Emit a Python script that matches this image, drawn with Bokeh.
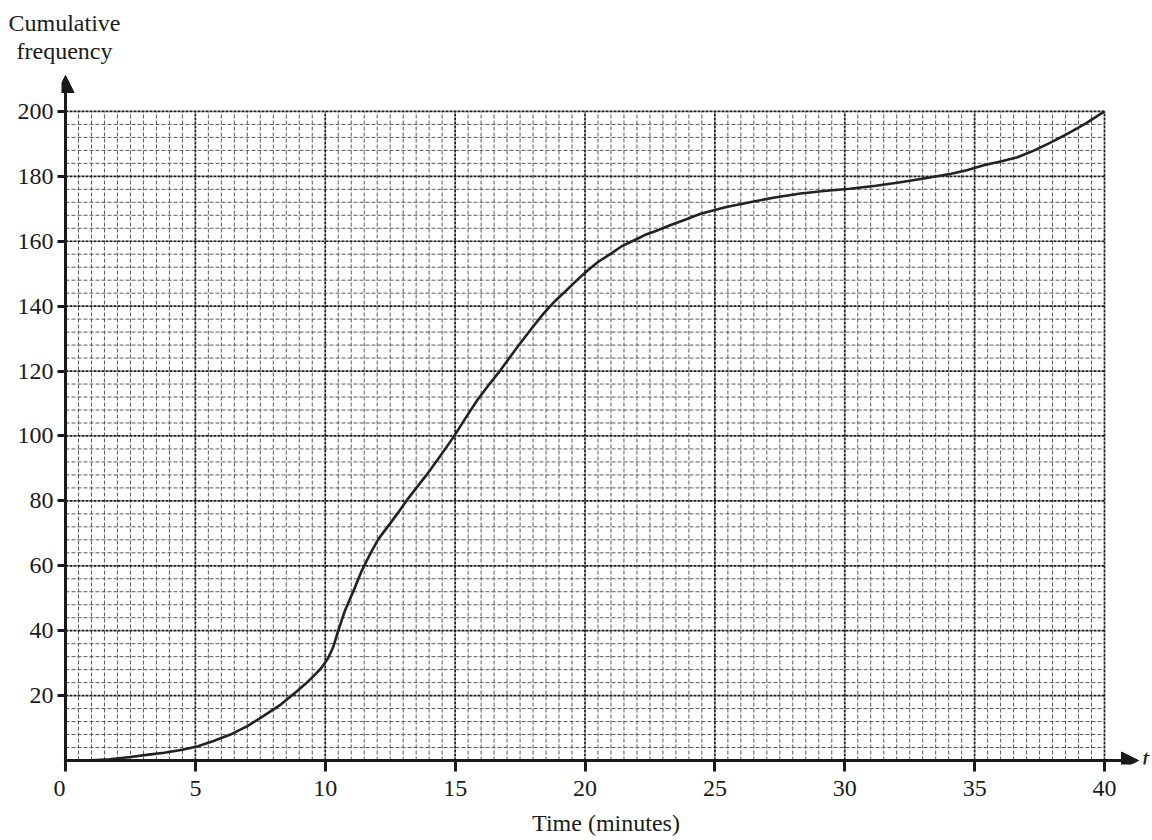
import numpy as np
from bokeh.plotting import figure
from bokeh.models import FixedTicker, Arrow, NormalHead, Range1d, Title
from bokeh.core.properties import value
from bokeh.embed import file_html
from bokeh.resources import INLINE

# Data
time_min = [0, 1, 1.7, 2.5, 3.2, 3.8, 4.5, 5.1, 5.7, 6.35, 7, 7.6, 8.3, 8.9, 9.25, 9.55, 9.85,
            10.1, 10.3, 10.5, 10.75, 11.1, 11.4, 11.75, 12.05, 12.4, 12.8, 13.15, 13.9, 14.4,
            14.95, 15.4, 15.85, 16.3, 16.75, 17.1, 17.5, 17.95, 18.4, 18.85, 19.3, 19.7, 20.1,
            20.5, 21, 21.4, 21.9, 22.3, 22.8, 23.3, 23.8, 24.45, 25.4, 26.4, 27.3, 28.3, 29.2,
            30.2, 31.2, 32.15, 33.1, 34.1, 34.7, 35.35, 36, 36.65, 37.3, 37.9, 38.55, 39.3, 40]
cum_freq = [0, 0.1, 0.4, 1.1, 1.8, 2.4, 3.3, 4.4, 6, 8, 10.6, 13.6, 17.3, 21.3, 23.7, 26, 28.5,
            31.4, 34.8, 40, 46, 52.5, 58.4, 64, 68.3, 72, 76.3, 80.3, 88, 93.5,
            99.8, 105.5, 111, 115.8, 120.3, 124.2, 128.5, 133.2, 137.7, 141.6, 145, 148.1, 151,
            153.6, 156.2, 158.4, 160.3, 161.9, 163.4, 165, 166.5, 168.5, 170.5, 172.1, 173.5,
            174.7, 175.5, 176.2, 177.1, 178.2, 179.4, 180.8, 181.9, 183.4, 184.6, 185.9, 188,
            190.3, 193, 196.4, 200]
x_ticks = [0, 5, 10, 15, 20, 25, 30, 35, 40]
x_tick_labels = {0: "0\u2002"}
y_ticks = [20, 40, 60, 80, 100, 120, 140, 160, 180, 200]
y_title = "Cumulative\n\u2004frequency"

FONT = "Liberation Serif"
INK = "#1a1a1a"
X_MAX, Y_MAX = 40, 200
PX_X, PX_Y = 25.975, 3.25          # pixels per unit
W, H = 1150, 838
LEFT, TOP, BOTTOM = 61, 70, 765     # frame edges (px)
X0_PX, Y0_PX = 65, 761              # origin (px)

x_range = Range1d((LEFT - X0_PX) / PX_X, (W - X0_PX) / PX_X)
y_range = Range1d(-(BOTTOM - Y0_PX) / PX_Y, (Y0_PX - TOP) / PX_Y)

p = figure(width=W, height=H, output_backend="svg", toolbar_location=None,
           x_range=x_range, y_range=y_range,
           min_border_left=LEFT, min_border_right=0, min_border_top=TOP,
           min_border_bottom=H - BOTTOM)
p.outline_line_color = None
p.xgrid.visible = False
p.ygrid.visible = False

# grid: minor
xm = [v for v in np.arange(0.5, X_MAX + 0.01, 0.5) if abs(v % 5) > 1e-9]
ym = [v for v in np.arange(4, Y_MAX + 0.01, 4) if abs(v % 20) > 1e-9]
p.segment(x0=xm, y0=[0] * len(xm), x1=xm, y1=[Y_MAX] * len(xm),
          line_color="#5a5a5a", line_width=1, line_dash="4 2")
p.segment(x0=[0] * len(ym), y0=ym, x1=[X_MAX] * len(ym), y1=ym,
          line_color="#5a5a5a", line_width=1, line_dash="4 2")
# grid: major
xM = x_ticks[1:]
p.segment(x0=xM, y0=[0] * len(xM), x1=xM, y1=[Y_MAX] * len(xM),
          line_color=INK, line_width=1.7, line_dash="3 1")
p.segment(x0=[0] * len(y_ticks), y0=y_ticks, x1=[X_MAX] * len(y_ticks), y1=y_ticks,
          line_color=INK, line_width=1.7, line_dash="3 1")

# curve
p.line(time_min, cum_freq, line_color="#222222", line_width=2.6, line_join="round")

# axis lines with arrows
y_tip = (Y0_PX - 75) / PX_Y
x_tip = (1138 - X0_PX) / PX_X
p.add_layout(Arrow(end=NormalHead(size=17, fill_color=INK, line_color=INK),
                   x_start=0, y_start=-0.45, x_end=0, y_end=y_tip,
                   line_width=3, line_color=INK))
p.add_layout(Arrow(end=NormalHead(size=17, fill_color=INK, line_color=INK),
                   x_start=-0.06, y_start=0, x_end=x_tip, y_end=0,
                   line_width=3, line_color=INK))
p.text(x=[(1145 - X0_PX) / PX_X], y=[(Y0_PX - 759) / PX_Y], text=["t"], text_font=value(FONT),
       text_font_size=value("26px"), text_font_style="italic", text_color=INK,
       text_align="center", text_baseline="middle")

# axes (ticks + labels)
for ax in (p.xaxis[0], p.yaxis[0]):
    ax.axis_line_color = None
    ax.major_tick_line_width = 3
    ax.major_tick_line_color = INK
    ax.minor_tick_line_color = None
    ax.major_label_text_font = FONT
    ax.major_label_text_font_size = "24px"
    ax.major_label_text_color = INK
p.xaxis.ticker = FixedTicker(ticks=x_ticks)
p.xaxis.major_label_overrides = x_tick_labels
p.yaxis.ticker = FixedTicker(ticks=y_ticks)
p.xaxis.major_tick_in = BOTTOM - Y0_PX
p.xaxis.major_tick_out = 7
p.yaxis.major_tick_in = X0_PX - LEFT
p.yaxis.major_tick_out = 4
p.xaxis.major_label_standoff = 3
p.yaxis.major_label_standoff = 4

p.xaxis.axis_label = "Time (minutes)"
p.xaxis.axis_label_text_font = FONT
p.xaxis.axis_label_text_font_size = "24px"
p.xaxis.axis_label_text_font_style = "normal"
p.xaxis.axis_label_text_color = INK
p.xaxis.axis_label_standoff = 6

# "Cumulative / frequency" heading (one two-line title)
p.add_layout(Title(text=y_title, align="left", offset=8 - LEFT, standoff=13,
                   text_line_height=1.06,
                   text_font=FONT, text_font_size="24px", text_font_style="normal",
                   text_color=INK), "above")

open("out.html", "w").write(file_html(p, INLINE))
